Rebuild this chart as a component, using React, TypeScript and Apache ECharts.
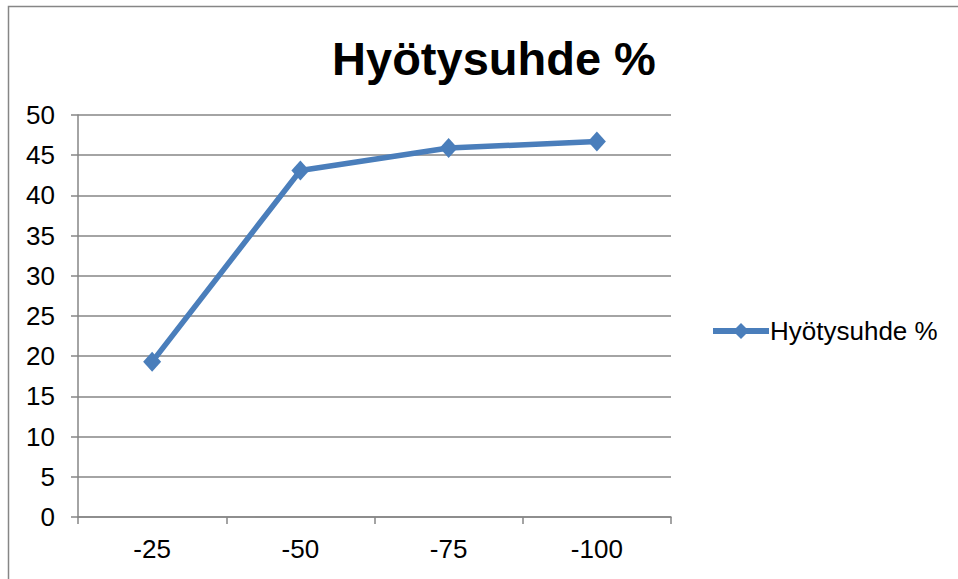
import React, { useEffect, useRef } from "react";
import * as echarts from "echarts";

const categories = ["-25", "-50", "-75", "-100"];
const values = [19.3, 43.1, 45.9, 46.7];
const seriesName = "Hyötysuhde %";
const titleText = "Hyötysuhde %";

export default function App() {
  const ref = useRef<HTMLDivElement>(null);
  useEffect(() => {
    if (!ref.current) return;
    const chart = echarts.init(ref.current, null, { renderer: "svg" });
    const font = "'Liberation Sans', Arial, sans-serif";
    chart.setOption({
      animation: false,
      backgroundColor: "#ffffff",
      textStyle: { fontFamily: font },
      title: {
        text: titleText,
        left: 489,
        top: 30,
        textAlign: "center",
        textStyle: { fontFamily: font, fontSize: 47, fontWeight: "bold", color: "#000" },
      },
      graphic: [
        {
          type: "rect",
          shape: { x: 8.5, y: 6.5, width: 1000, height: 1000 },
          style: { fill: "none", stroke: "#868686", lineWidth: 1.5 },
          silent: true,
        },
      ],
      legend: {
        data: [seriesName],
        left: 705,
        top: 313,
        padding: 5,
        itemWidth: 56,
        itemHeight: 20,
        itemGap: 4,
        lineStyle: { width: 6 },
        textStyle: { fontFamily: font, fontSize: 26, color: "#000", padding: [0, 0, 0, -4] },
      },
      grid: { left: 78, right: 287, top: 115, bottom: 62, containLabel: false },
      xAxis: {
        type: "category",
        data: categories,
        boundaryGap: true,
        axisLine: { show: true, lineStyle: { color: "#868686", width: 1.5 } },
        axisTick: { show: true, length: 7, alignWithLabel: false, lineStyle: { color: "#868686", width: 1.5 } },
        axisLabel: { fontFamily: font, fontSize: 26, color: "#000", margin: 19 },
        splitLine: { show: false },
      },
      yAxis: {
        type: "value",
        min: 0,
        max: 50,
        interval: 5,
        axisLine: { show: true, lineStyle: { color: "#868686", width: 1.5 } },
        axisTick: { show: true, length: 7, inside: false, lineStyle: { color: "#868686", width: 1.5 } },
        axisLabel: { fontFamily: font, fontSize: 26, color: "#000", margin: 23 },
        splitLine: { show: true, lineStyle: { color: "#868686", width: 1.5 } },
      },
      series: [
        {
          name: seriesName,
          type: "line",
          data: values,
          symbol: "diamond",
          symbolSize: [18, 20],
          lineStyle: { color: "#4A7EBB", width: 5.5 },
          itemStyle: { color: "#4A7EBB" },
        },
      ],
    });
    return () => chart.dispose();
  }, []);
  return (
    <div
      ref={ref}
      style={{ position: "absolute", left: 0, top: 0, width: 958, height: 579 }}
    />
  );
}
